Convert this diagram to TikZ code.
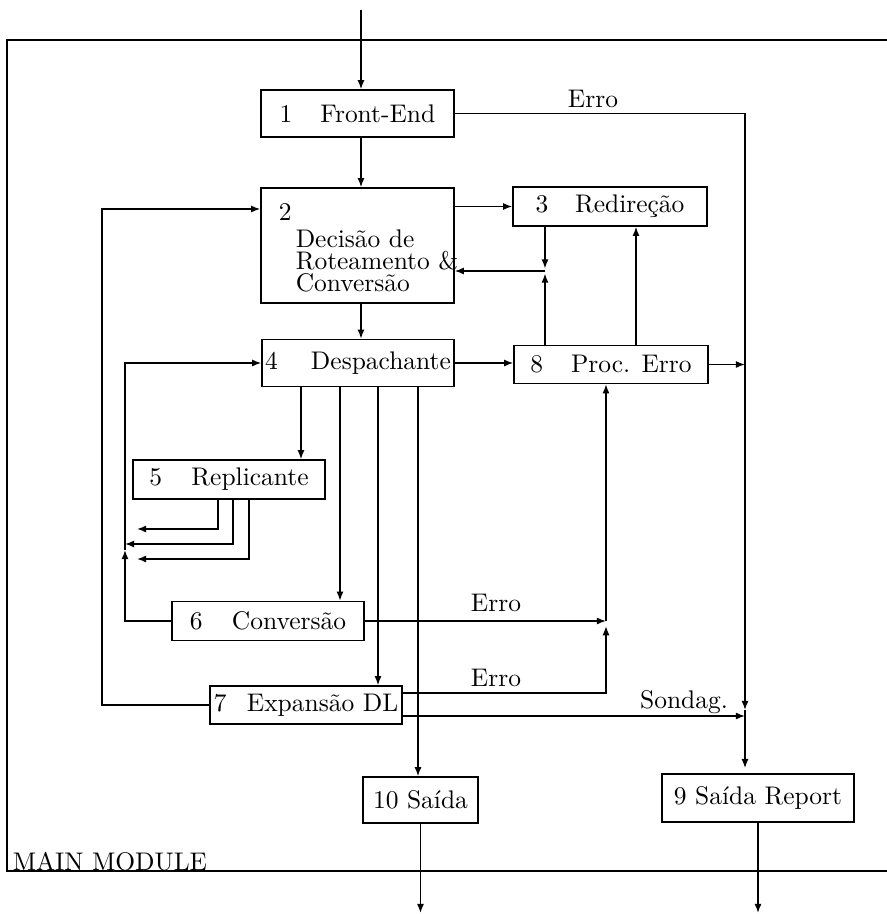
\documentclass[tikz,border=0pt]{standalone}
\usetikzlibrary{arrows.meta}
\newcommand\pxu{0.0138cm}
\begin{document}
\begin{tikzpicture}[x=0.0138cm,y=-0.0138cm,
  line width=0.6pt,
  >={Latex[length=3.6pt,width=2.8pt]},
  box/.style={draw, inner sep=0pt, align=center},
  lbl/.style={inner sep=0pt, anchor=base},
]
\useasboundingbox (0,0) rectangle (887,914);
% frame
\coordinate (fr1) at (887,40);
\coordinate (fr2) at (7,40);
\coordinate (fr3) at (7,871);
\coordinate (fr4) at (887,871);
\draw (fr1) -- (fr2) -- (fr3) -- (fr4);
\node[inner sep=0pt, anchor=base west] (mm) at (12,870) {MAIN MODULE};

% boxes
\node[box, minimum width=193*\pxu, minimum height=47*\pxu] (n1) at (357.5,113.5) {1\hspace{11pt}Front-End};
\node[box, minimum width=193*\pxu, minimum height=115*\pxu] (n2) at (357.5,245.5) {};
\node[inner sep=0pt, anchor=base west] (n2num) at (278,220) {2};
\node[inner sep=0pt, anchor=north west, align=left, font=\fontsize{10}{8.7}\selectfont] (n2txt) at (295,229) {Decisão de\\Roteamento \&\\Conversão};
\node[box, minimum width=194*\pxu, minimum height=39*\pxu] (n3) at (610,206.5) {3\hspace{10.5pt}Redireção};
\node[box, minimum width=192*\pxu, minimum height=47*\pxu] (n4) at (358,363) {4\hspace{13pt}Despachante};
\node[box, minimum width=194*\pxu, minimum height=38*\pxu] (n8) at (611,364.5) {8\hspace{11pt}Proc. Erro};
\node[box, minimum width=192*\pxu, minimum height=39*\pxu] (n5) at (229,479.5) {5\hspace{11.5pt}Replicante};
\node[box, minimum width=192*\pxu, minimum height=39*\pxu] (n6) at (268,621) {6\hspace{11.5pt}Conversão};
\node[box, minimum width=192*\pxu, minimum height=38*\pxu] (n7) at (306,705) {7\hspace{8pt}Expansão DL};
\node[box, minimum width=115*\pxu, minimum height=46*\pxu] (n10) at (420.5,800) {10 Saída};
\node[box, minimum width=192*\pxu, minimum height=48*\pxu] (n9) at (758,798) {9 Saída Report};

% coordinates
\coordinate (in) at (361,10);
\coordinate (J1) at (545,271);
\coordinate (xa) at (636,0);
\coordinate (V) at (745,0);
\coordinate (Vtip) at (745,710);
\coordinate (r1) at (137,529);
\coordinate (r2) at (125,544);
\coordinate (r3) at (137,559);
\coordinate (L4) at (125,550);
\coordinate (L2) at (102,209);
\coordinate (JE) at (606,621);
\coordinate (e7) at (0,693);
\coordinate (s7) at (0,716);
\coordinate (so) at (745,716);
\coordinate (c1) at (301,0);
\coordinate (c2) at (340,0);
\coordinate (c3) at (378,0);
\coordinate (c4) at (418,0);
\coordinate (q1) at (218,0);
\coordinate (q2) at (233,0);
\coordinate (q3) at (249,0);
\coordinate (bot) at (0,913);

% connectors
\draw[->] (in) -- (in |- n1.north);
\draw[->] (n1.south -| in) -- (n2.north -| in);
\draw[->] (n2.east |- n3.west) -- (n3.west);
\draw[->,shorten >=1pt] (n3.south -| J1) -- (J1);
\draw[->,shorten >=1pt] (n8.north -| J1) -- (J1);
\draw[->] (J1) -- (J1 -| n2.east);
\draw[->] (n8.north -| xa) -- (n3.south -| xa);
\draw[->] (n2.south -| in) -- (n4.north -| in);
\draw[->] (n4.east) -- (n4.east -| n8.west);
\draw[->] (n8.east) -- (n8.east -| V);
\draw[->] (n1.east) -| (Vtip);
\node[lbl] (e1) at (593,107) {Erro};
\draw[->,shorten >=2pt] (Vtip) -- (n9.north -| V);
\draw[->] (n4.south -| c1) -- (n5.north -| c1);
\draw[->] (n4.south -| c2) -- (n6.north -| c2);
\draw[->] (n4.south -| c3) -- (n7.north -| c3);
\draw[->] (n4.south -| c4) -- (n10.north -| c4);
\draw[->] (n5.south -| q1) |- (r1);
\draw[->] (n5.south -| q2) |- (r2);
\draw[->] (n5.south -| q3) |- (r3);
\draw[->] (n6.west) -| (L4);
\draw[->] (L4) |- (n4.west);
\draw[->] (n7.west) -| (L2) -- (L2 -| n2.west);
\draw[->] (n6.east) -- (JE);
\node[lbl] (e2) at (496,611) {Erro};
\draw[->,shorten >=2pt] (n7.east |- e7) -| (JE);
\node[lbl] (e3) at (496,686) {Erro};
\draw[->] (JE) -- (JE |- n8.south);
\draw[->] (n7.east |- s7) -- (so);
\node[lbl] (sd) at (684,708) {Sondag.};
\draw[->] (n10.south) -- (n10.south |- bot);
\draw[->] (n9.south) -- (n9.south |- bot);
\end{tikzpicture}
\end{document}
